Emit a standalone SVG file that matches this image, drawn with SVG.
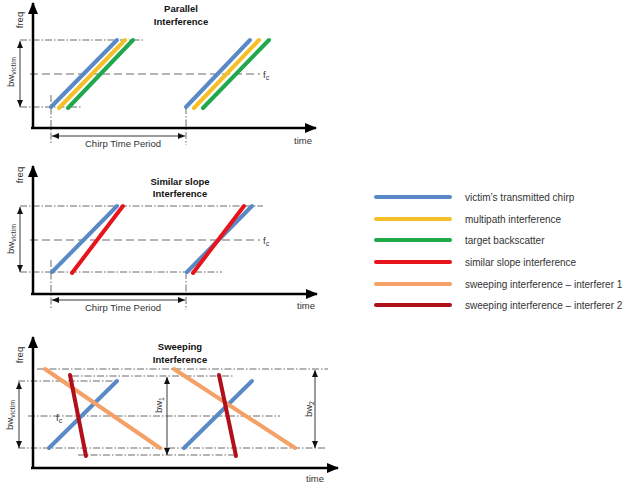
<svg xmlns="http://www.w3.org/2000/svg" width="623" height="489" viewBox="0 0 623 489">
<defs>
<marker id="ax" markerWidth="12" markerHeight="10" refX="11" refY="5" orient="auto" markerUnits="userSpaceOnUse"><path d="M0,0 L12,5 L0,10 Z" fill="#000"/></marker>
<marker id="sa" markerWidth="7" markerHeight="6" refX="7" refY="3" orient="auto-start-reverse" markerUnits="userSpaceOnUse"><path d="M0,0 L7,3 L0,6 Z" fill="#111"/></marker>
</defs>
<style>
.ax{stroke:#000;stroke-width:2.5;fill:none;marker-end:url(#ax)}
.dd{stroke:#444;stroke-width:0.8;stroke-dasharray:7 2 1.5 2;fill:none}
.da{stroke:#444;stroke-width:0.8;stroke-dasharray:8 4;fill:none}
.ar{stroke:#222;stroke-width:0.9;fill:none;marker-start:url(#sa);marker-end:url(#sa)}
.c{stroke-width:4;stroke-linecap:round;fill:none}
.b{stroke:#5A8AC6}
.y{stroke:#F5C027}
.g{stroke:#1FA84C}
.r{stroke:#E8141B}
.o{stroke:#F4A066}
.dr{stroke:#B0101A}
text{font-family:"Liberation Sans",Arial,sans-serif;fill:#333}
.t{font-size:9.5px;font-weight:bold;fill:#111;text-anchor:middle}
.l{font-size:9.5px}
.m{text-anchor:middle}
.lg{font-size:10px}
</style>

<g id="panel-parallel">
  <line class="dd" x1="20" y1="40" x2="143" y2="40"/>
  <line class="dd" x1="20" y1="107" x2="82" y2="107"/>
  <line class="da" x1="30" y1="74" x2="260" y2="74"/>
  <line class="dd" x1="51" y1="95" x2="51" y2="145"/>
  <line class="dd" x1="186" y1="107" x2="186" y2="145"/>
  <line class="ar" x1="20" y1="41" x2="20" y2="107"/>
  <line class="ar" x1="52" y1="136" x2="185" y2="136"/>
  <line class="ax" x1="33" y1="128" x2="33" y2="3"/>
  <line class="ax" x1="31" y1="128" x2="316" y2="128"/>
  <line class="c b" x1="51" y1="107" x2="117" y2="40"/>
  <line class="c y" x1="59" y1="108" x2="125" y2="40"/>
  <line class="c g" x1="68" y1="108" x2="133" y2="40"/>
  <line class="c b" x1="186" y1="107" x2="250" y2="40"/>
  <line class="c y" x1="194" y1="108" x2="259" y2="40"/>
  <line class="c g" x1="203" y1="108" x2="269" y2="40"/>
  <text class="t" x="181" y="11.5">Parallel</text>
  <text class="t" x="181" y="24.5">Interference</text>
  <text class="l" transform="translate(23,20) rotate(-90)" text-anchor="middle">freq</text>
  <text class="l" transform="translate(14,72) rotate(-90)" text-anchor="middle">bw<tspan font-size="7" dy="2">victim</tspan></text>
  <text class="l" x="263" y="78">f<tspan font-size="7" dy="2">c</tspan></text>
  <text class="l m" x="123" y="147">Chirp Time Period</text>
  <text class="l" x="294" y="144">time</text>
</g>

<g id="panel-similar">
  <line class="dd" x1="20" y1="206" x2="263" y2="206"/>
  <line class="dd" x1="20" y1="272" x2="222" y2="272"/>
  <line class="da" x1="30" y1="240" x2="260" y2="240"/>
  <line class="dd" x1="51" y1="260" x2="51" y2="310"/>
  <line class="dd" x1="186" y1="272" x2="186" y2="310"/>
  <line class="ar" x1="20" y1="207" x2="20" y2="272"/>
  <line class="ar" x1="52" y1="300" x2="185" y2="300"/>
  <line class="ax" x1="33" y1="294" x2="33" y2="166"/>
  <line class="ax" x1="31" y1="294" x2="317" y2="294"/>
  <line class="c b" x1="52" y1="272" x2="117" y2="206"/>
  <line class="c r" x1="72" y1="273" x2="123" y2="206"/>
  <line class="c b" x1="187" y1="272" x2="252" y2="206"/>
  <line class="c r" x1="193" y1="273" x2="244" y2="206"/>
  <text class="t" x="180" y="184.5">Similar slope</text>
  <text class="t" x="180" y="196.5">Interference</text>
  <text class="l" transform="translate(23,175) rotate(-90)" text-anchor="middle">freq</text>
  <text class="l" transform="translate(14,239) rotate(-90)" text-anchor="middle">bw<tspan font-size="7" dy="2">victim</tspan></text>
  <text class="l" x="263" y="244">f<tspan font-size="7" dy="2">c</tspan></text>
  <text class="l m" x="123" y="311">Chirp Time Period</text>
  <text class="l" x="297" y="309">time</text>
</g>

<g id="panel-sweeping">
  <line class="dd" x1="37" y1="369" x2="328" y2="369"/>
  <line class="dd" x1="72" y1="376" x2="233" y2="376"/>
  <line class="dd" x1="18" y1="381" x2="117" y2="381"/>
  <line class="dd" x1="28" y1="416" x2="280" y2="416"/>
  <line class="dd" x1="18" y1="448" x2="327" y2="448"/>
  <line class="dd" x1="78" y1="455" x2="237" y2="455"/>
  <line class="ar" x1="19" y1="382" x2="19" y2="448"/>
  <line class="ar" x1="167" y1="377" x2="167" y2="455"/>
  <line class="ar" x1="315" y1="370" x2="315" y2="448"/>
  <line class="ax" x1="33" y1="468" x2="33" y2="337"/>
  <line class="ax" x1="31" y1="468" x2="338" y2="468"/>
  <line class="c b" x1="49" y1="448" x2="117" y2="381"/>
  <line class="c b" x1="184" y1="448" x2="252" y2="381"/>
  <line class="c o" x1="45" y1="369" x2="160" y2="448"/>
  <line class="c o" x1="174" y1="369" x2="295" y2="448"/>
  <line class="c dr" x1="70" y1="375" x2="86" y2="456"/>
  <line class="c dr" x1="219" y1="375" x2="236" y2="456"/>
  <text class="t" x="180" y="349.5">Sweeping</text>
  <text class="t" x="180" y="362.5">Interference</text>
  <text class="l" transform="translate(23,355) rotate(-90)" text-anchor="middle">freq</text>
  <text class="l" transform="translate(13,415) rotate(-90)" text-anchor="middle">bw<tspan font-size="7" dy="2">victim</tspan></text>
  <text class="l" transform="translate(162,405) rotate(-90)" text-anchor="middle">bw<tspan font-size="7" dy="2">1</tspan></text>
  <text class="l" transform="translate(312,409) rotate(-90)" text-anchor="middle">bw<tspan font-size="7" dy="2">2</tspan></text>
  <text class="l" x="56" y="421">f<tspan font-size="7" dy="2">c</tspan></text>
  <text class="l" x="306" y="482">time</text>
</g>

<g id="legend">
  <g id="lg-victim"><line class="c b" x1="376" y1="197" x2="450" y2="197"/><text class="lg" x="465" y="201">victim’s transmitted chirp</text></g>
  <g id="lg-multipath"><line class="c y" x1="376" y1="219" x2="450" y2="219"/><text class="lg" x="465" y="223">multipath interference</text></g>
  <g id="lg-target"><line class="c g" x1="376" y1="240" x2="450" y2="240"/><text class="lg" x="465" y="244">target backscatter</text></g>
  <g id="lg-similar"><line class="c r" x1="376" y1="262" x2="450" y2="262"/><text class="lg" x="465" y="266">similar slope interference</text></g>
  <g id="lg-sweep1"><line class="c o" x1="376" y1="284" x2="450" y2="284"/><text class="lg" x="465" y="288">sweeping interference – interferer 1</text></g>
  <g id="lg-sweep2"><line class="c dr" x1="376" y1="305" x2="450" y2="305"/><text class="lg" x="465" y="309">sweeping interference – interferer 2</text></g>
</g>
</svg>
